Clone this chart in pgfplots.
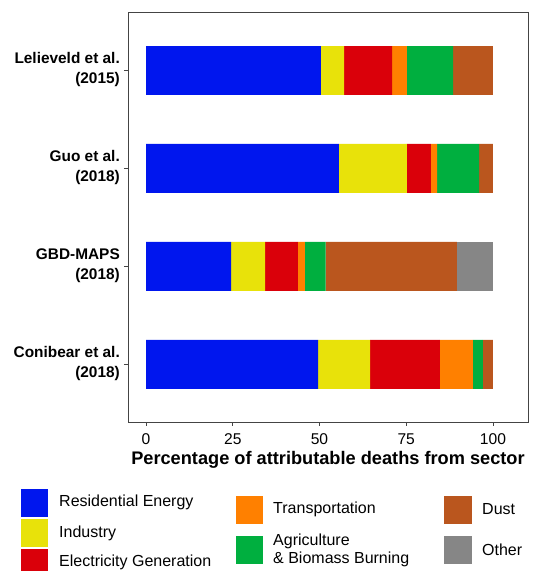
\documentclass[border=0pt]{standalone}
\usepackage{pgfplots}
\pgfplotsset{compat=1.18}
\usepackage{fontspec}
\setmainfont{Liberation Sans}
\definecolor{cRes}{HTML}{0016EE}
\definecolor{cInd}{HTML}{E8E20A}
\definecolor{cEle}{HTML}{DA000A}
\definecolor{cTra}{HTML}{FF8000}
\definecolor{cAgr}{HTML}{00AF3F}
\definecolor{cDus}{HTML}{BA561E}
\definecolor{cOth}{HTML}{868686}
\definecolor{frame}{HTML}{444444}
\pgfplotstableread{
y res ind ele tra agr dus oth
3 50.4 6.7 13.8 4.3 13.3 11.5 0
2 55.6 19.6 6.9 1.8 12.1 4.0 0
1 24.5 9.8 9.5 2.0 6.0 37.8 10.4
0 49.6 15.0 20.1 9.5 2.9 2.9 0
}\datatable
\begin{document}
\begin{tikzpicture}[x=1pt,y=1pt]
\useasboundingbox (0,0) rectangle (534,571);
\begin{axis}[
  at={(128pt,149pt)}, anchor=south west,
  width=400pt, height=410pt, scale only axis,
  xbar stacked, bar width=0.5,
  xmin=-5.2, xmax=110.1, ymin=-0.587, ymax=3.597,
  xtick={0,25,50,75,100},
  ytick={0,1,2,3},
  xtick pos=lower, ytick pos=left,
  yticklabels={{Conibear et al.\\(2018)},{GBD-MAPS\\(2018)},{Guo et al.\\(2018)},{Lelieveld et al.\\(2015)}},
  tick align=outside, major tick length=4pt,
  axis line style={frame, line width=0.9pt},
  tick style={frame, line width=0.9pt},
  /pgf/number format/assume math mode=true,
  xticklabel style={font=\fontsize{15.6}{18}\selectfont, anchor=base, yshift=-19pt, inner sep=0pt},
  yticklabel style={font=\fontsize{15.4}{20.5}\bfseries\selectfont, align=right, anchor=east, inner sep=0pt, xshift=-4pt, yshift=1pt},
  xlabel={Percentage of attributable deaths from sector},
  xlabel style={font=\fontsize{18.2}{22}\bfseries\selectfont, at={(axis description cs:0.5,0)}, anchor=base, yshift=-43pt, inner sep=0pt},
  every axis plot/.append style={draw=none},
]
\addplot[fill=cRes] table[x=res,y=y]{\datatable};
\addplot[fill=cInd] table[x=ind,y=y]{\datatable};
\addplot[fill=cEle] table[x=ele,y=y]{\datatable};
\addplot[fill=cTra] table[x=tra,y=y]{\datatable};
\addplot[fill=cAgr] table[x=agr,y=y]{\datatable};
\addplot[fill=cDus] table[x=dus,y=y]{\datatable};
\addplot[fill=cOth] table[x=oth,y=y]{\datatable};
\end{axis}
% legend
\begin{scope}[every node/.style={font=\fontsize{16}{18}\selectfont, inner sep=0pt, anchor=west, align=left}]
\fill[cRes] (21,54) rectangle (48,82);
\fill[cInd] (21,24) rectangle (48,52);
\fill[cEle] (21,-6) rectangle (48,22);
\node at (59,69) {Residential Energy};
\node at (59,38) {Industry};
\node at (59,9) {Electricity Generation};
\fill[cTra] (236,47) rectangle (263,75);
\fill[cAgr] (236,7) rectangle (263,35);
\node at (273,62) {Transportation};
\node at (273,21) {Agriculture\\\& Biomass Burning};
\fill[cDus] (444,47) rectangle (472,75);
\fill[cOth] (444,7) rectangle (472,35);
\node at (482,62) {Dust};
\node at (482,21) {Other};
\end{scope}
\end{tikzpicture}
\end{document}
